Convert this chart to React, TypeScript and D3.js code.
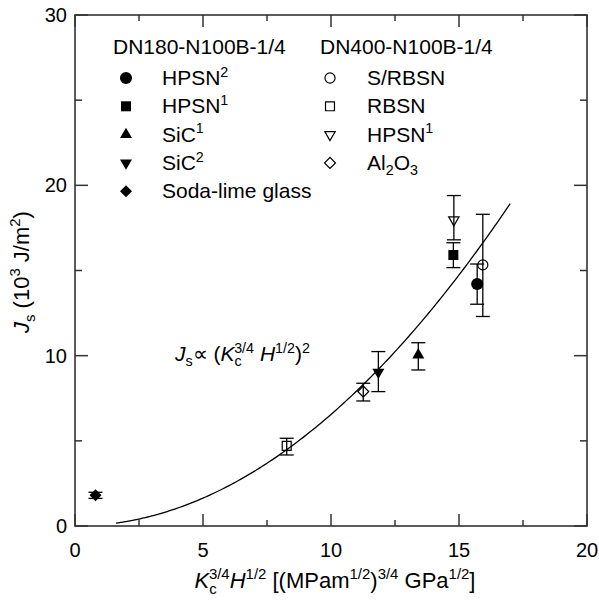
import React from 'react';
import * as d3 from 'd3';

const W = 599;
const H = 601;
const plot = { left: 75, right: 587, top: 15, bottom: 526 };

const xTicks = [0, 5, 10, 15, 20];
const xMinor = [2.5, 7.5, 12.5, 17.5];
const yTicks = [0, 10, 20, 30];
const yMinor = [5, 15, 25];

const groupTitles = ['DN180-N100B-1/4', 'DN400-N100B-1/4'];

// DN180-N100B-1/4 (filled markers)
const solidLabels = ['HPSN^2', 'HPSN^1', 'SiC^1', 'SiC^2', 'Soda-lime glass'];
const solidShapes = ['circle', 'square', 'triangle', 'triangleDown', 'diamond'];
const solidX = [15.71, 14.78, 13.41, 11.85, 0.8];
const solidY = [14.21, 15.91, 10.04, 9.03, 1.8];
const solidLo = [13.02, 15.17, 9.16, 7.89, 1.62];
const solidHi = [15.38, 16.63, 10.76, 10.24, 1.98];

// DN400-N100B-1/4 (open markers)
const openLabels = ['S/RBSN', 'RBSN', 'HPSN^1', 'Al_2O_3'];
const openShapes = ['circle', 'square', 'triangleDown', 'diamond'];
const openX = [15.93, 8.27, 14.8, 11.26];
const openY = [15.33, 4.7, 17.97, 7.89];
const openLo = [12.3, 4.17, 16.8, 7.34];
const openHi = [18.3, 5.15, 19.4, 8.38];

// fitted curve Js = a * x^2
const fitA = 0.0655;
const fitRange = [1.6, 17];

const FONT = '"Liberation Sans", Arial, Helvetica, sans-serif';

type Piece = { t: string; sup?: boolean; sub?: boolean; it?: boolean };

// tiny markup: $..$ italic, ^x / ^{..} superscript, _x / _{..} subscript
function parse(s: string): Piece[] {
  const out: Piece[] = [];
  let italic = false;
  let buf = '';
  const flush = () => {
    if (buf) out.push({ t: buf, it: italic });
    buf = '';
  };
  for (let i = 0; i < s.length; i++) {
    const c = s[i];
    if (c === '$') {
      flush();
      italic = !italic;
    } else if (c === '^' || c === '_') {
      flush();
      let t = '';
      if (s[i + 1] === '{') {
        const j = s.indexOf('}', i);
        t = s.slice(i + 2, j);
        i = j;
      } else {
        t = s[i + 1];
        i++;
      }
      out.push({ t, sup: c === '^', sub: c === '_' });
    } else buf += c;
  }
  flush();
  return out;
}

function Rich({ text, size }: { text: string; size: number }) {
  const pieces = parse(text);
  let shift = 0;
  const small = size * 0.68;
  return (
    <>
      {pieces.map((p, i) => {
        const target = p.sup ? -0.4 * size : p.sub ? 0.26 * size : 0;
        const dy = target - shift;
        shift = target;
        const prev = pieces[i - 1];
        // stack a superscript right over a preceding subscript
        const dx = p.sup && prev && prev.sub ? -prev.t.length * small * 0.52 : 0;
        return (
          <tspan
            key={i}
            dy={dy || undefined}
            dx={dx || undefined}
            fontSize={p.sup || p.sub ? small : size}
            fontStyle={p.it ? 'italic' : undefined}
          >
            {p.t}
          </tspan>
        );
      })}
    </>
  );
}

const symbolFor = (shape: string, filled: boolean) => {
  const big = filled ? 1 : 0.75;
  if (shape === 'circle') return { d: d3.symbol(d3.symbolCircle, filled ? 115 : 80)(), rot: 0 };
  if (shape === 'square') return { d: d3.symbol(d3.symbolSquare, filled ? 100 : 80)(), rot: 0 };
  if (shape === 'triangle') return { d: d3.symbol(d3.symbolTriangle, 62 * big)(), rot: 0 };
  if (shape === 'triangleDown') return { d: d3.symbol(d3.symbolTriangle, 62 * big)(), rot: 180 };
  return { d: d3.symbol(d3.symbolSquare, filled ? 72 : 60)(), rot: 45 };
};

function Marker({ x, y, shape, filled }: { x: number; y: number; shape: string; filled: boolean }) {
  const s = symbolFor(shape, filled);
  return (
    <path
      d={s.d!}
      transform={`translate(${x},${y}) rotate(${s.rot})`}
      fill={filled ? '#000' : 'none'}
      stroke="#000"
      strokeWidth={filled ? 0 : 1.2}
    />
  );
}

export default function App() {
  const x = d3.scaleLinear().domain([0, 20]).range([plot.left, plot.right]);
  const y = d3.scaleLinear().domain([0, 30]).range([plot.bottom, plot.top]);

  const curveX = d3.range(fitRange[0], fitRange[1] + 0.001, 0.1);
  const line = d3
    .line<number>()
    .x((d) => x(d))
    .y((d) => y(fitA * d * d))
    .curve(d3.curveMonotoneX);

  const axisColor = '#333';
  const errBar = (xv: number, lo: number, hi: number, key: string) => (
    <g key={key} stroke="#000" strokeWidth={1.3}>
      <line x1={x(xv)} x2={x(xv)} y1={y(lo)} y2={y(hi)} />
      <line x1={x(xv) - 7} x2={x(xv) + 7} y1={y(lo)} y2={y(lo)} />
      <line x1={x(xv) - 7} x2={x(xv) + 7} y1={y(hi)} y2={y(hi)} />
    </g>
  );

  const legendRow = (i: number) => 85 + i * 28.3;

  return (
    <svg
      width={W}
      height={H}
      style={{ position: 'absolute', left: 0, top: 0, background: '#fff' }}
      fontFamily={FONT}
    >
      {/* ticks */}
      <g stroke={axisColor} strokeWidth={1.5}>
        {xTicks.map((t) => (
          <g key={'xt' + t}>
            <line x1={x(t)} x2={x(t)} y1={plot.bottom} y2={plot.bottom - 12} />
            <line x1={x(t)} x2={x(t)} y1={plot.top} y2={plot.top + 12} />
          </g>
        ))}
        {xMinor.map((t) => (
          <g key={'xm' + t}>
            <line x1={x(t)} x2={x(t)} y1={plot.bottom} y2={plot.bottom - 6} />
            <line x1={x(t)} x2={x(t)} y1={plot.top} y2={plot.top + 6} />
          </g>
        ))}
        {yTicks.map((t) => (
          <g key={'yt' + t}>
            <line x1={plot.left} x2={plot.left + 13} y1={y(t)} y2={y(t)} />
            <line x1={plot.right} x2={plot.right - 13} y1={y(t)} y2={y(t)} />
          </g>
        ))}
        {yMinor.map((t) => (
          <g key={'ym' + t}>
            <line x1={plot.left} x2={plot.left + 7} y1={y(t)} y2={y(t)} />
            <line x1={plot.right} x2={plot.right - 7} y1={y(t)} y2={y(t)} />
          </g>
        ))}
      </g>
      <rect
        x={plot.left}
        y={plot.top}
        width={plot.right - plot.left}
        height={plot.bottom - plot.top}
        fill="none"
        stroke={axisColor}
        strokeWidth={1.6}
      />

      {/* tick labels */}
      <g fontSize={20} fill="#000">
        {xTicks.map((t) => (
          <text key={'xl' + t} x={x(t)} y={plot.bottom + 31} textAnchor="middle">
            {t}
          </text>
        ))}
        {yTicks.map((t) => (
          <text key={'yl' + t} x={plot.left - 8} y={y(t) + 7} textAnchor="end">
            {t}
          </text>
        ))}
      </g>

      {/* axis titles */}
      <text x={335} y={588} textAnchor="middle" fontSize={22}>
        <Rich text={'$K$_c^{3/4}$H$^{1/2} [(MPam^{1/2})^{3/4} GPa^{1/2}]'} size={22} />
      </text>
      <text transform={`translate(29,333) rotate(-90)`} fontSize={22}>
        <Rich text={'$J$_s (10^3 J/m^2)'} size={22} />
      </text>

      {/* fitted curve */}
      <path d={line(curveX)!} fill="none" stroke="#000" strokeWidth={1.3} />

      {/* annotation */}
      <text x={175} y={361} fontSize={21}>
        <Rich text={'$J$_s∝ ($K$_c^{3/4} $H$^{1/2})^2'} size={21} />
      </text>

      {/* data */}
      {solidX.map((v, i) => errBar(v, solidLo[i], solidHi[i], 'se' + i))}
      {openX.map((v, i) => errBar(v, openLo[i], openHi[i], 'oe' + i))}
      {solidX.map((v, i) => (
        <Marker key={'sm' + i} x={x(v)} y={y(solidY[i])} shape={solidShapes[i]} filled />
      ))}
      {openX.map((v, i) => (
        <Marker key={'om' + i} x={x(v)} y={y(openY[i])} shape={openShapes[i]} filled={false} />
      ))}

      {/* legend */}
      <g fontSize={21}>
        <text x={113} y={54}>{groupTitles[0]}</text>
        <text x={320} y={54}>{groupTitles[1]}</text>
        {solidLabels.map((l, i) => (
          <g key={'sl' + i}>
            <Marker x={126} y={legendRow(i) - 7} shape={solidShapes[i]} filled />
            <text x={162} y={legendRow(i)}>
              <Rich text={l} size={21} />
            </text>
          </g>
        ))}
        {openLabels.map((l, i) => (
          <g key={'ol' + i}>
            <Marker x={330} y={legendRow(i) - 7} shape={openShapes[i]} filled={false} />
            <text x={367} y={legendRow(i)}>
              <Rich text={l} size={21} />
            </text>
          </g>
        ))}
      </g>
    </svg>
  );
}
